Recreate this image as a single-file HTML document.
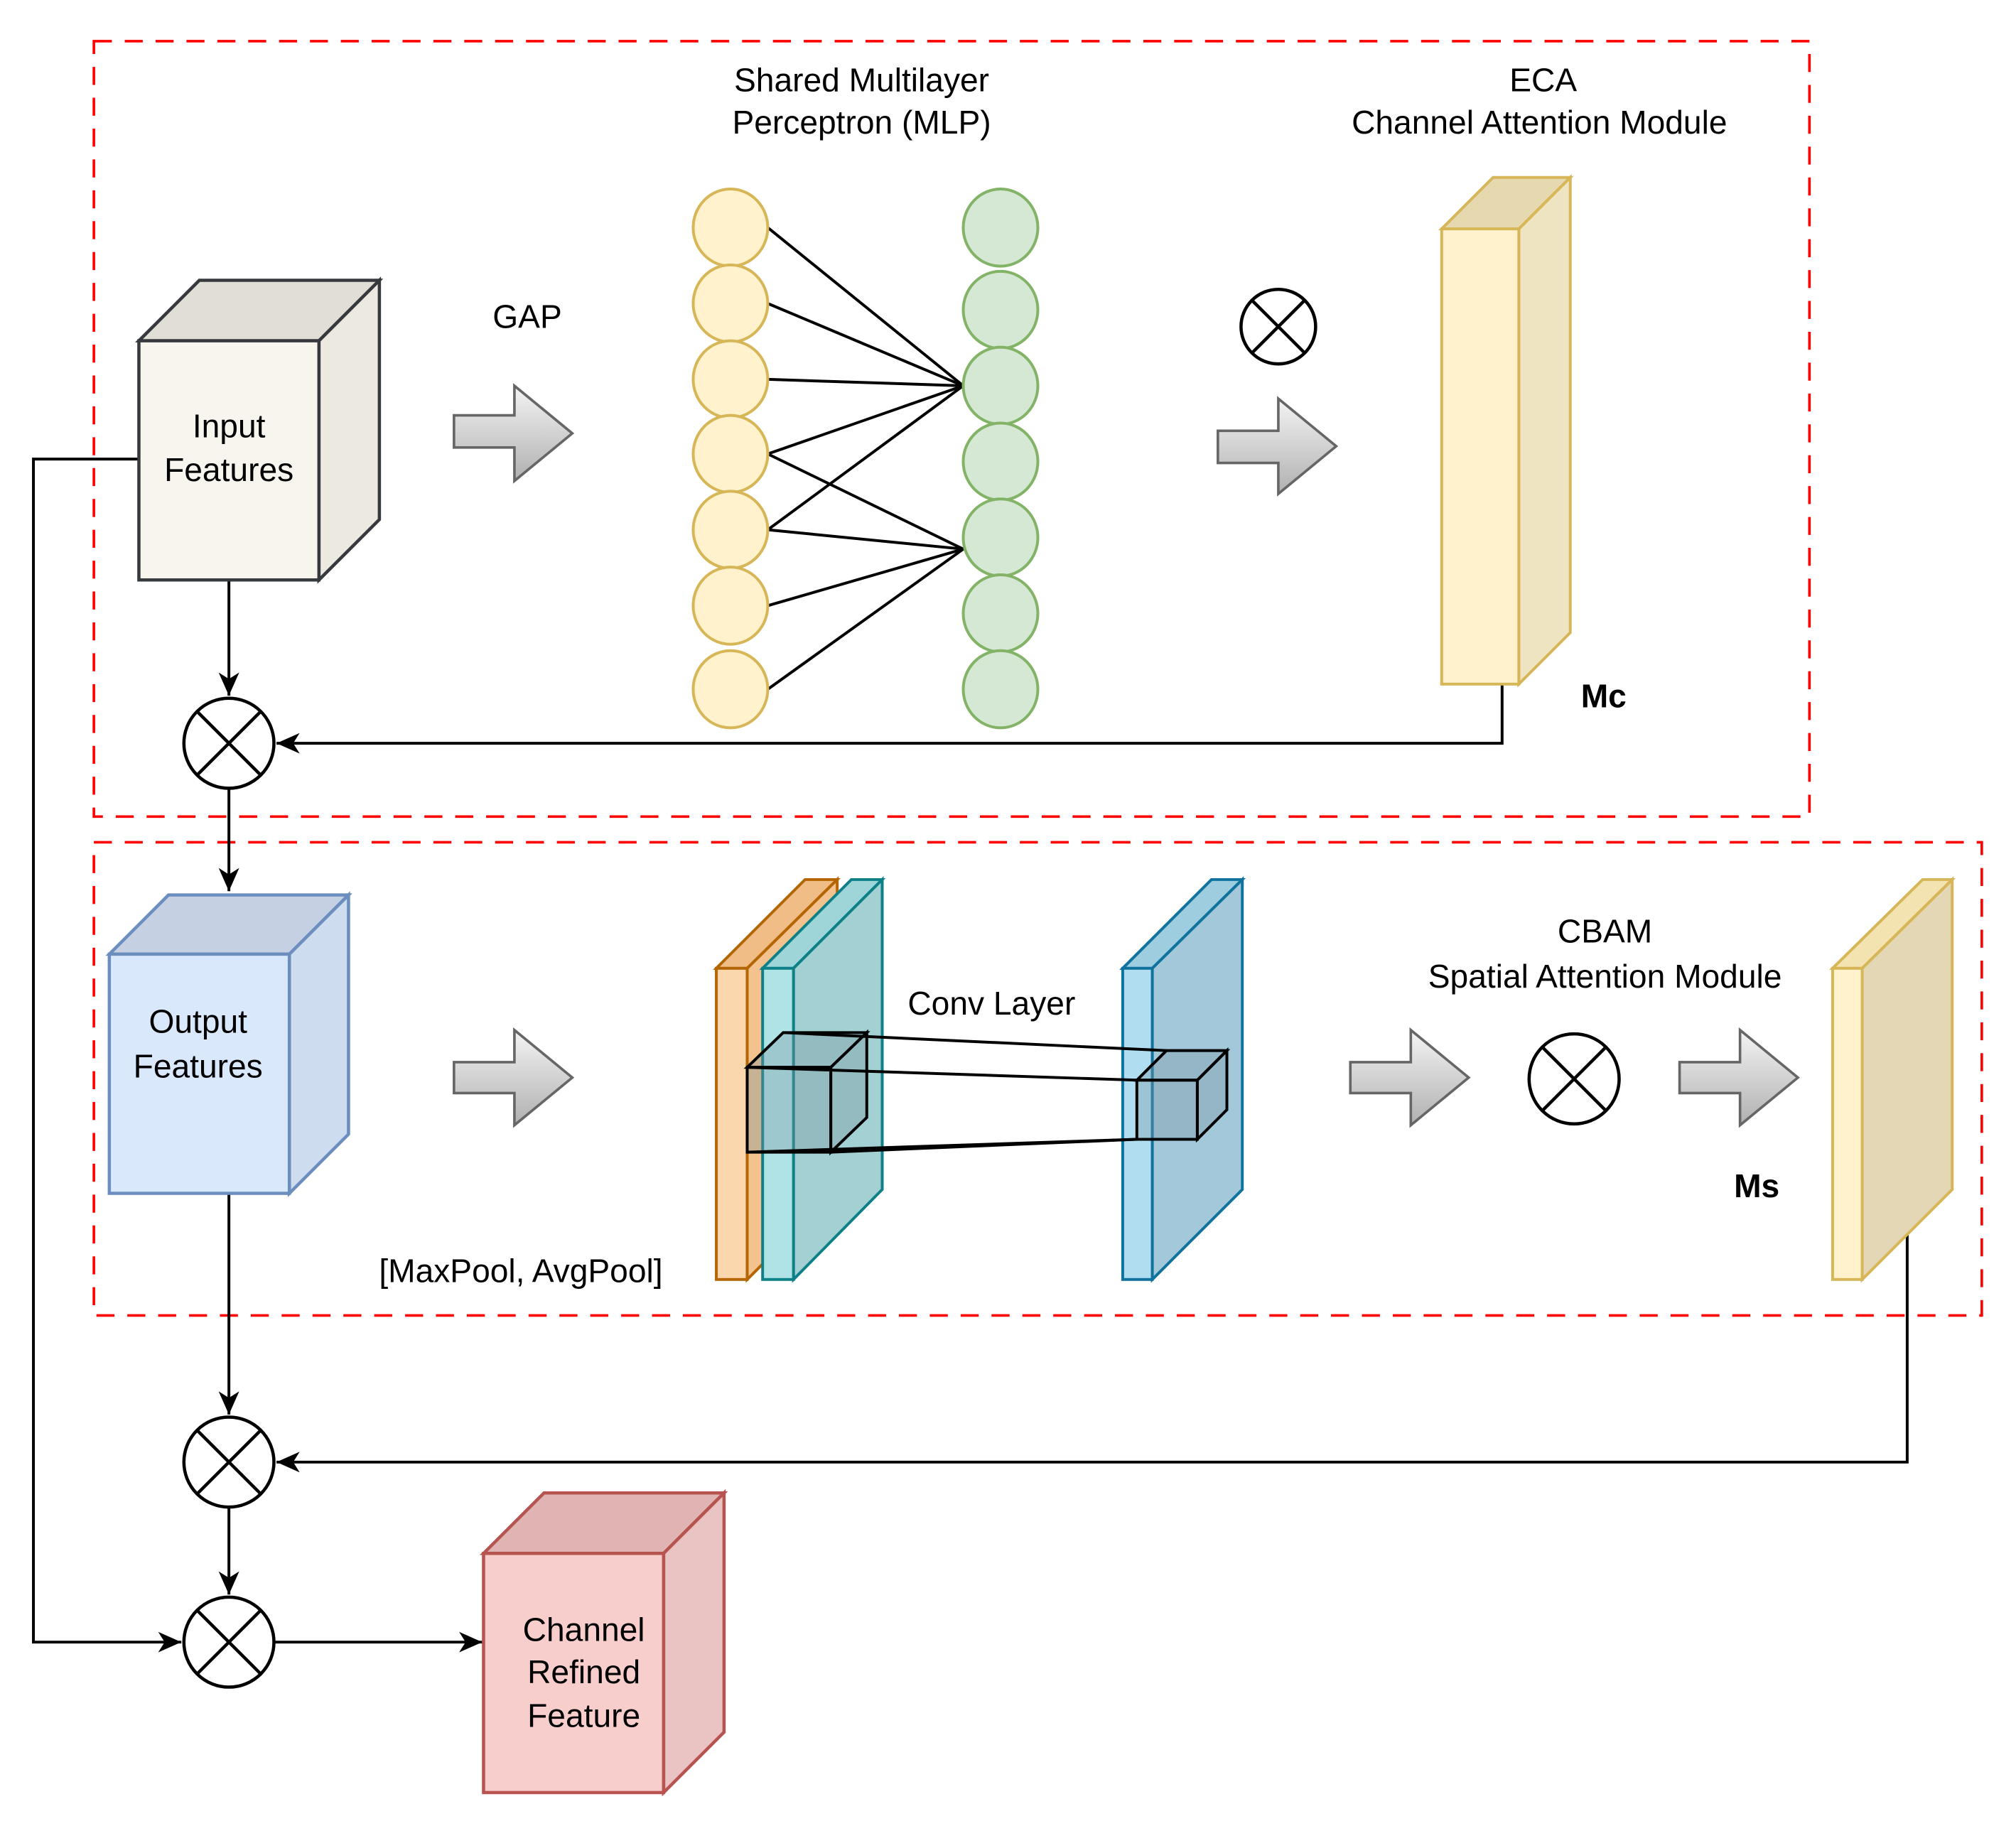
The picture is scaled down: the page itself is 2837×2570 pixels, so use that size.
<!DOCTYPE html>
<html><head><style>html,body{margin:0;padding:0;background:#fff}svg{display:block}</style></head><body>
<svg width="2837" height="2570" viewBox="0 0 1567.6 1420" preserveAspectRatio="none" xmlns="http://www.w3.org/2000/svg" font-family="Liberation Sans, sans-serif" font-size="25.5">
<defs>
<linearGradient id="g" x1="0" y1="0" x2="0" y2="1"><stop offset="0" stop-color="#f4f4f4"/><stop offset="1" stop-color="#b0b0b0"/></linearGradient>
<marker id="a" markerWidth="20" markerHeight="20" refX="18" refY="10" orient="auto" markerUnits="userSpaceOnUse"><path d="M0,2 L18,10 L0,18 L5,10 Z" fill="#000"/></marker>
</defs>
<g fill="none" stroke="#f00" stroke-width="2" stroke-dasharray="14,10">
<rect x="73" y="32" width="1334" height="603"/>
<rect x="73" y="655" width="1468" height="368"/>
</g>
<g stroke="#000" stroke-width="2.2" fill="none">
<polyline points="108,357 26,357 26,1277 141,1277" marker-end="url(#a)"/>
<line x1="178" y1="451" x2="178" y2="541" marker-end="url(#a)"/>
<polyline points="1168,532 1168,578 215,578" marker-end="url(#a)"/>
<line x1="178" y1="613" x2="178" y2="693" marker-end="url(#a)"/>
<line x1="178" y1="928" x2="178" y2="1100" marker-end="url(#a)"/>
<polyline points="1483,960 1483,1137 215,1137" marker-end="url(#a)"/>
<line x1="178" y1="1172" x2="178" y2="1240" marker-end="url(#a)"/>
<line x1="213" y1="1277" x2="375" y2="1277" marker-end="url(#a)"/>
</g>
<g stroke="#36393d" stroke-width="2.5">
<polygon points="108,265 155,218 295,218 248,265" fill="#e0ded5"/>
<polygon points="248,265 295,218 295,404 248,451" fill="#ece9e0"/>
<rect x="108" y="265" width="140" height="186" fill="#f7f5ee"/>
</g>
<text x="178" y="340" text-anchor="middle">Input</text>
<text x="178" y="374" text-anchor="middle">Features</text>
<g fill="url(#g)" stroke="#666" stroke-width="2">
<polygon points="353,323 400,323 400,300 445,337 400,374 400,348 353,348"/>
<polygon points="947,335 994,335 994,310 1039,347 994,384 994,360 947,360"/>
<polygon points="353,826 400,826 400,801 445,838 400,875 400,850 353,850"/>
<polygon points="1050,826 1097,826 1097,801 1142,838 1097,875 1097,850 1050,850"/>
<polygon points="1306,826 1353,826 1353,801 1398,838 1353,875 1353,850 1306,850"/>
</g>
<text x="410" y="255" text-anchor="middle">GAP</text>
<text x="670" y="71" text-anchor="middle">Shared Multilayer</text>
<text x="670" y="104" text-anchor="middle">Perceptron (MLP)</text>
<text x="1200" y="71" text-anchor="middle">ECA</text>
<text x="1197" y="104" text-anchor="middle">Channel Attention Module</text>
<g stroke="#000" stroke-width="2.2">
<line x1="597" y1="177" x2="749" y2="300"/>
<line x1="597" y1="236" x2="749" y2="300"/>
<line x1="597" y1="295" x2="749" y2="300"/>
<line x1="597" y1="353" x2="749" y2="300"/>
<line x1="597" y1="353" x2="749" y2="427"/>
<line x1="597" y1="412" x2="749" y2="300"/>
<line x1="597" y1="412" x2="749" y2="427"/>
<line x1="597" y1="471" x2="749" y2="427"/>
<line x1="597" y1="536" x2="749" y2="427"/>
</g>
<g fill="#fff2cc" stroke="#d6b656" stroke-width="2.2">
<ellipse cx="568" cy="177" rx="29" ry="30"/><ellipse cx="568" cy="236" rx="29" ry="30"/><ellipse cx="568" cy="295" rx="29" ry="30"/><ellipse cx="568" cy="353" rx="29" ry="30"/><ellipse cx="568" cy="412" rx="29" ry="30"/><ellipse cx="568" cy="471" rx="29" ry="30"/><ellipse cx="568" cy="536" rx="29" ry="30"/>
</g>
<g fill="#d5e8d4" stroke="#82b366" stroke-width="2.2">
<ellipse cx="778" cy="177" rx="29" ry="30"/><ellipse cx="778" cy="241" rx="29" ry="30"/><ellipse cx="778" cy="300" rx="29" ry="30"/><ellipse cx="778" cy="359" rx="29" ry="30"/><ellipse cx="778" cy="418" rx="29" ry="30"/><ellipse cx="778" cy="477" rx="29" ry="30"/><ellipse cx="778" cy="536" rx="29" ry="30"/>
</g>
<g fill="#fff" stroke="#000" stroke-width="2.5">
<circle cx="994" cy="254" r="29"/><path d="M973.5,233.5 L1014.5,274.5 M1014.5,233.5 L973.5,274.5"/>
<circle cx="178" cy="578" r="35"/><path d="M153,553 L203,603 M203,553 L153,603"/>
<circle cx="1224" cy="839" r="35"/><path d="M1199,814 L1249,864 M1249,814 L1199,864"/>
<circle cx="178" cy="1137" r="35"/><path d="M153,1112 L203,1162 M203,1112 L153,1162"/>
<circle cx="178" cy="1277" r="35"/><path d="M153,1252 L203,1302 M203,1252 L153,1302"/>
</g>
<g stroke="#d6b656" stroke-width="2.2">
<polygon points="1121,178 1161,138 1221,138 1181,178" fill="#e6d9b0"/>
<polygon points="1181,178 1221,138 1221,492 1181,532" fill="#efe4c2"/>
<rect x="1121" y="178" width="60" height="354" fill="#fff2cc"/>
</g>
<text x="1247" y="550" text-anchor="middle" font-weight="bold">Mc</text>
<g stroke="#6c8ebf" stroke-width="2.5">
<polygon points="85,742 131,696 271,696 225,742" fill="#c5d0e3"/>
<polygon points="225,742 271,696 271,882 225,928" fill="#cddcef"/>
<rect x="85" y="742" width="140" height="186" fill="#dae8fc"/>
</g>
<text x="154" y="803" text-anchor="middle">Output</text>
<text x="154" y="838" text-anchor="middle">Features</text>
<g stroke="#b46504" stroke-width="2.2">
<polygon points="557,753 626,684 651,684 581,753" fill="#f0bd86"/>
<polygon points="581,753 651,684 651,925 581,995" fill="#f3c28e"/>
<rect x="557" y="753" width="24" height="242" fill="#fad7ac"/>
</g>
<g stroke="#0e8088" stroke-width="2.2">
<polygon points="593,753 662,684 686,684 617,753" fill="#9ed5d8"/>
<polygon points="617,753 686,684 686,925 617,995" fill="#a3d0d2"/>
<rect x="593" y="753" width="24" height="242" fill="#b0e3e6"/>
</g>
<g stroke="#10739e" stroke-width="2.2">
<polygon points="873,753 942,684 966,684 896,753" fill="#9fcde0"/>
<polygon points="896,753 966,684 966,925 896,995" fill="#a3c8da"/>
<rect x="873" y="753" width="23" height="242" fill="#b1ddf0"/>
</g>
<g stroke="#000" stroke-width="2.2" fill="rgba(120,150,160,0.35)">
<polygon points="581,830 609,803 674,803 646,830"/>
<polygon points="646,830 674,803 674,869 646,896"/>
<rect x="581" y="830" width="65" height="66"/>
<polygon points="884,840 907,817 954,817 931,840"/>
<polygon points="931,840 954,817 954,863 931,886"/>
<rect x="884" y="840" width="47" height="46"/>
<line x1="609" y1="803" x2="907" y2="817"/>
<line x1="581" y1="830" x2="884" y2="840"/>
<line x1="581" y1="896" x2="884" y2="886"/>
<line x1="646" y1="896" x2="884" y2="886"/>
</g>
<text x="771" y="789" text-anchor="middle">Conv Layer</text>
<text x="405" y="997" text-anchor="middle">[MaxPool, AvgPool]</text>
<text x="1248" y="733" text-anchor="middle">CBAM</text>
<text x="1248" y="768" text-anchor="middle">Spatial Attention Module</text>
<g stroke="#d6b656" stroke-width="2.2">
<polygon points="1425,753 1495,684 1518,684 1448,753" fill="#f2e3b0"/>
<polygon points="1448,753 1518,684 1518,925 1448,995" fill="#e3d7b5"/>
<rect x="1425" y="753" width="23" height="242" fill="#fff2cc"/>
</g>
<text x="1366" y="931" text-anchor="middle" font-weight="bold">Ms</text>
<g stroke="#b85450" stroke-width="2.5">
<polygon points="376,1208 423,1161 563,1161 516,1208" fill="#e0b4b2"/>
<polygon points="516,1208 563,1161 563,1347 516,1394" fill="#eac4c3"/>
<rect x="376" y="1208" width="140" height="186" fill="#f8cecc"/>
</g>
<text x="454" y="1276" text-anchor="middle">Channel</text>
<text x="454" y="1309" text-anchor="middle">Refined</text>
<text x="454" y="1343" text-anchor="middle">Feature</text>
</svg>
</body></html>
